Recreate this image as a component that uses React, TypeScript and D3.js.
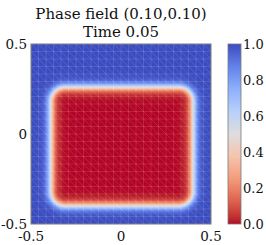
import React, { useMemo } from 'react';
import * as d3 from 'd3';

// phase field: rounded box (value 0 inside, 1 outside)
const boxX = [-0.39, 0.4];
const boxY = [-0.4, 0.26];
const cornerRadius = 0.08;
const interfaceWidth = 0.028;

const axisTicks = [-0.5, 0, 0.5];
const colorTicks = [0, 0.2, 0.4, 0.6, 0.8, 1.0];
const meshCells = 24;

const titleLines = ['Phase field (0.10,0.10)', 'Time 0.05'];

// cool-to-warm, reversed (0 = red, 1 = blue)
const cmapStops = [0, 0.125, 0.25, 0.375, 0.5, 0.625, 0.75, 0.875, 1];
const cmapColors = [
  '#b40426', '#de604d', '#f49a7b', '#f5c4ad', '#dddddd',
  '#b8d0f9', '#8db0fe', '#6282ea', '#3b4cc0'
];

const W = 266;
const H = 245;
const plot = { left: 31, top: 44, size: 180 };
const bar = { left: 228, width: 13 };
const FONT = "'DejaVu Serif'";

const color = d3
  .scaleLinear<string>()
  .domain(cmapStops)
  .range(cmapColors)
  .interpolate(d3.interpolateLab)
  .clamp(true);

function phase(x: number, y: number) {
  const cx = (boxX[0] + boxX[1]) / 2;
  const cy = (boxY[0] + boxY[1]) / 2;
  const hx = (boxX[1] - boxX[0]) / 2 - cornerRadius;
  const hy = (boxY[1] - boxY[0]) / 2 - cornerRadius;
  const qx = Math.abs(x - cx) - hx;
  const qy = Math.abs(y - cy) - hy;
  const d =
    Math.hypot(Math.max(qx, 0), Math.max(qy, 0)) +
    Math.min(Math.max(qx, qy), 0) -
    cornerRadius;
  return 0.5 * (1 + Math.tanh(d / interfaceWidth));
}

export default function App() {
  const xScale = d3.scaleLinear().domain([-0.5, 0.5]).range([plot.left, plot.left + plot.size]);
  const yScale = d3.scaleLinear().domain([-0.5, 0.5]).range([plot.top + plot.size, plot.top]);
  const cScale = d3.scaleLinear().domain([0, 1]).range([plot.top + plot.size, plot.top]);

  const fieldUrl = useMemo(() => {
    const n = plot.size;
    const canvas = document.createElement('canvas');
    canvas.width = n;
    canvas.height = n;
    const ctx = canvas.getContext('2d')!;
    const img = ctx.createImageData(n, n);
    for (let j = 0; j < n; j++) {
      for (let i = 0; i < n; i++) {
        const x = xScale.invert(plot.left + i + 0.5);
        const y = yScale.invert(plot.top + j + 0.5);
        const c = d3.rgb(color(phase(x, y)));
        const k = (j * n + i) * 4;
        img.data[k] = c.r;
        img.data[k + 1] = c.g;
        img.data[k + 2] = c.b;
        img.data[k + 3] = 255;
      }
    }
    ctx.putImageData(img, 0, 0);
    return canvas.toDataURL();
  }, []);

  const barUrl = useMemo(() => {
    const n = plot.size;
    const canvas = document.createElement('canvas');
    canvas.width = 1;
    canvas.height = n;
    const ctx = canvas.getContext('2d')!;
    for (let j = 0; j < n; j++) {
      ctx.fillStyle = color(cScale.invert(plot.top + j + 0.5));
      ctx.fillRect(0, j, 1, 1);
    }
    return canvas.toDataURL();
  }, []);

  const meshPos = d3.range(meshCells + 1).map(i => -0.5 + i / meshCells);
  const step = 1 / meshCells;

  return (
    <svg width={W} height={H} style={{ position: 'absolute', left: 0, top: 0, background: '#fff' }}>
      {/* title */}
      {titleLines.map((t, i) => (
        <text
          key={i}
          x={xScale(0)}
          y={19 + i * 18}
          textAnchor="middle"
          fontFamily={FONT}
          fontSize={15}
          fill="#111"
        >
          {t}
        </text>
      ))}

      {/* field */}
      <image
        href={fieldUrl}
        x={plot.left}
        y={plot.top}
        width={plot.size}
        height={plot.size}
        preserveAspectRatio="none"
      />

      {/* mesh */}
      <g stroke="#fff" strokeOpacity={0.2} strokeWidth={0.6}>
        {meshPos.map((v, i) => (
          <g key={i}>
            <line x1={xScale(v)} x2={xScale(v)} y1={yScale(-0.5)} y2={yScale(0.5)} />
            <line x1={xScale(-0.5)} x2={xScale(0.5)} y1={yScale(v)} y2={yScale(v)} />
          </g>
        ))}
        {meshPos.slice(0, -1).map((vx, i) =>
          meshPos.slice(1).map((vy, j) => (
            <line
              key={`${i}-${j}`}
              x1={xScale(vx)}
              y1={yScale(vy)}
              x2={xScale(vx + step)}
              y2={yScale(vy - step)}
            />
          ))
        )}
      </g>

      <rect
        x={plot.left}
        y={plot.top}
        width={plot.size}
        height={plot.size}
        fill="none"
        stroke="#7a7a7a"
        strokeWidth={1}
      />

      {/* y axis labels */}
      {axisTicks.map((t, i) => (
        <text
          key={`y${i}`}
          x={plot.left - 4}
          y={yScale(t) + 4.5}
          textAnchor="end"
          fontFamily={FONT}
          fontSize={13.5}
          fill="#111"
        >
          {t === 0 ? '0' : t.toFixed(1)}
        </text>
      ))}

      {/* x axis labels */}
      {axisTicks.map((t, i) => (
        <text
          key={`x${i}`}
          x={xScale(t)}
          y={plot.top + plot.size + 17}
          textAnchor="middle"
          fontFamily={FONT}
          fontSize={13.5}
          fill="#111"
        >
          {t === 0 ? '0' : t.toFixed(1)}
        </text>
      ))}

      {/* colorbar */}
      <image
        href={barUrl}
        x={bar.left}
        y={plot.top}
        width={bar.width}
        height={plot.size}
        preserveAspectRatio="none"
      />
      <rect
        x={bar.left}
        y={plot.top}
        width={bar.width}
        height={plot.size}
        fill="none"
        stroke="#7a7a7a"
        strokeWidth={0.8}
      />
      {colorTicks.map((t, i) => (
        <text
          key={`c${i}`}
          x={bar.left + bar.width + 2}
          y={cScale(t) + 4.5}
          fontFamily={FONT}
          fontSize={13}
          fill="#111"
        >
          {t.toFixed(1)}
        </text>
      ))}
    </svg>
  );
}
